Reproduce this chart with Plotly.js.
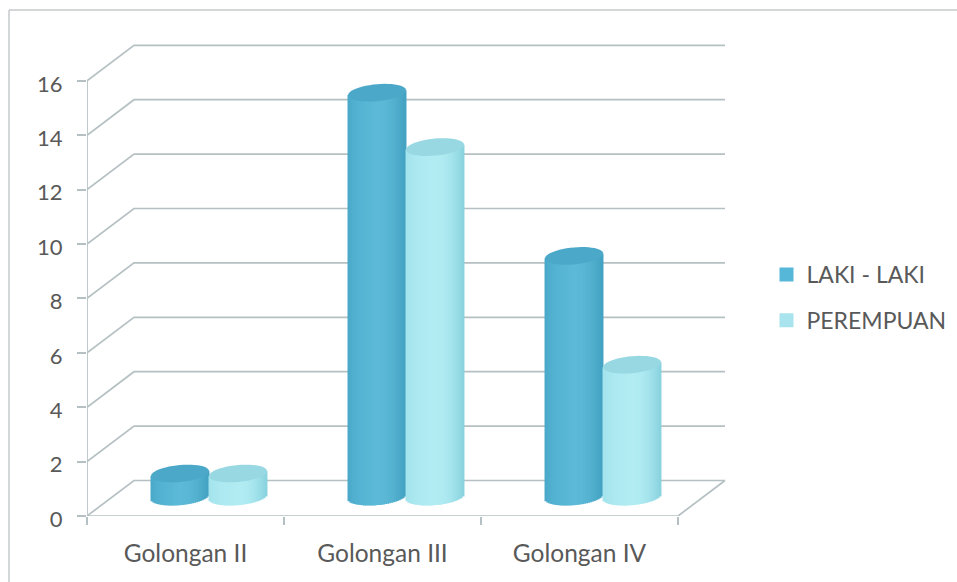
<!DOCTYPE html>
<html>
<head>
<meta charset="utf-8">
<script src="https://cdn.plot.ly/plotly-3.0.1.min.js"></script>
<style>html,body{margin:0;padding:0;background:#fff}#chart{width:957px;height:582px}</style>
</head>
<body>
<div id="chart"></div>
<script>
const categories = ['Golongan II', 'Golongan III', 'Golongan IV'];
const lakiLaki = [1, 15, 9];
const perempuan = [1, 13, 5];
const yTicks = [0, 2, 4, 6, 8, 10, 12, 14, 16];

// Pixel box of the plot area and the depth of the pseudo-3D floor.
const box = {left: 87, right: 736, top: 36, bottom: 516};
const unitX = 197, unitY = 27.2;        // px per category, px per value on the front axis
const depthX = 47 / unitX, depthY = 35.5 / unitY;
const barScale = 27.2, barZeroPx = 500.7; // value scale of the cylinders, set back into the floor
const barLift = 4 / barScale;            // cylinder foot sits slightly above that zero

const gridColor = '#b5c0c2';
const textColor = '#595959';
const font = 'Lato, "Open Sans", sans-serif';

const xMax = (box.right - box.left) / unitX;
const yMax = (box.bottom - box.top) / unitY;
const y2Range = [-(box.bottom - barZeroPx) / barScale, (barZeroPx - box.top) / barScale];
const pxX = p => (p - box.left) / (box.right - box.left);
const pxY = p => (box.bottom - p) / (box.bottom - box.top);

const traces = [];

function line(xs, ys, width) {
  traces.push({type: 'scatter', mode: 'lines', x: xs, y: ys, xaxis: 'x', yaxis: 'y',
    line: {color: gridColor, width: width || 1.7}, hoverinfo: 'skip', showlegend: false});
}

// Back wall: one diagonal plus one horizontal per tick.
yTicks.forEach(v => line([0, depthX, 3 + depthX], [v, v + depthY, v + depthY]));
// Floor edge, front axis lines.
line([3, 3 + depthX], [0, depthY]);
line([0, 3], [0, 0]);
line([0, 0], [0, 16]);

// Cylinder geometry, in bar-axis units.
const bodyW = 58 / unitX;
const shiftX = depthX / 2;
const ellipseH = 8.5 / barScale;
const tilt = 2.5 / barScale;
const strips = 30;

function mix(a, b, f) {
  return 'rgb(' + a.map((c, i) => Math.round(c + (b[i] - c) * f)).join(',') + ')';
}

function cylinder(name, values, offset, edgeL, mid, edgeR, solid) {
  const centers = values.map((_, i) => i + 0.5 + shiftX + offset * bodyW / 2);
  // Carries the legend entry only; the shaded strips below draw the body.
  traces.push({type: 'bar', name: name, legendgroup: name, x: [null], y: [null], width: bodyW,
    xaxis: 'x', yaxis: 'y2', marker: {color: solid, line: {color: solid, width: 2}},
    hoverinfo: 'skip', showlegend: true});
  for (let s = 0; s < strips; s++) {
    const t = -1 + (2 * s + 1) / strips;
    const arc = ellipseH * Math.sqrt(1 - t * t);
    const col = t < 0 ? mix(edgeL, mid, Math.sqrt(1 + t)) : mix(mid, edgeR, t * t);
    const bases = values.map(() => barLift - arc + tilt * t);
    traces.push({type: 'bar', x: centers.map(c => c + t * bodyW / 2),
      y: values.map((v, i) => v + tilt * t - bases[i]), base: bases,
      width: bodyW / strips * 1.5, xaxis: 'x', yaxis: 'y2',
      marker: {color: col, opacity: 1, line: {width: 0}},
      hoverinfo: 'skip', showlegend: false});
  }
  return centers;
}

function capPath(cx, v) {
  const pts = [];
  for (let a = 0; a < 48; a++) {
    const th = a / 48 * 2 * Math.PI;
    const t = Math.cos(th);
    pts.push((cx + t * bodyW / 2) + ',' + (v + ellipseH * Math.sin(th) + tilt * t));
  }
  return 'M' + pts.join('L') + 'Z';
}

const cLaki = cylinder('LAKI - LAKI', lakiLaki, -1, [70, 165, 198], [92, 186, 216], [66, 160, 192], '#56b7d8');
const cPer = cylinder('PEREMPUAN', perempuan, 1, [160, 226, 235], [178, 236, 243], [136, 210, 222], '#a9e3ee');

// Sheet frame: only the top and left rules are present.
const frame = {color: '#c6cacb', width: 1.5};
const shapes = [
  {type: 'line', xref: 'paper', yref: 'paper', layer: 'below', x0: pxX(9), x1: pxX(957), y0: pxY(10), y1: pxY(10), line: frame},
  {type: 'line', xref: 'paper', yref: 'paper', layer: 'below', x0: pxX(9), x1: pxX(9), y0: pxY(10), y1: pxY(582), line: frame}
];
lakiLaki.forEach((v, i) => shapes.push({type: 'path', xref: 'x', yref: 'y2', path: capPath(cLaki[i], v),
  fillcolor: '#4ca8c8', line: {width: 0}, layer: 'above'}));
perempuan.forEach((v, i) => shapes.push({type: 'path', xref: 'x', yref: 'y2', path: capPath(cPer[i], v),
  fillcolor: '#98d8e2', line: {width: 0}, layer: 'above'}));

const layout = {
  width: 957, height: 582,
  margin: {l: box.left, r: 957 - box.right, t: box.top, b: 582 - box.bottom, pad: 0, autoexpand: false},
  paper_bgcolor: '#fff', plot_bgcolor: 'rgba(0,0,0,0)',
  barmode: 'overlay',
  font: {family: font, color: textColor, size: 23},
  xaxis: {range: [0, xMax], tickmode: 'array', tickvals: [0.5, 1.5, 2.5], ticktext: categories,
    ticks: '', showgrid: false, zeroline: false, showline: false, ticklabelstandoff: 20,
    tickfont: {family: font, size: 24.5, color: textColor}},
  xaxis2: {overlaying: 'x', anchor: 'y', side: 'bottom', range: [0, xMax], tickmode: 'array',
    tickvals: [0, 1, 2, 3], ticks: 'outside', ticklen: 8, tickwidth: 1.7, tickcolor: gridColor,
    showticklabels: false, showgrid: false, zeroline: false, showline: false},
  yaxis: {range: [0, yMax], tickmode: 'array', tickvals: yTicks, ticks: 'outside', ticklen: 9,
    tickwidth: 1.7, tickcolor: gridColor, showgrid: false, zeroline: false, showline: false,
    ticklabelstandoff: 10, ticklabelshift: 3, tickfont: {family: font, size: 22, color: textColor}},
  yaxis2: {overlaying: 'y', range: y2Range, visible: false},
  legend: {x: pxX(766.5), y: pxY(253), yanchor: 'top', font: {family: font, size: 23, color: textColor},
    bgcolor: 'rgba(0,0,0,0)', itemwidth: 30, tracegroupgap: 13},
  shapes: shapes,
  showlegend: true
};

// Empty carrier so the tick-only x axis is drawn.
traces.push({type: 'scatter', x: [], y: [], xaxis: 'x2', yaxis: 'y', showlegend: false, hoverinfo: 'skip'});

Plotly.newPlot('chart', traces, layout, {displayModeBar: false, responsive: false});
</script>
</body>
</html>
